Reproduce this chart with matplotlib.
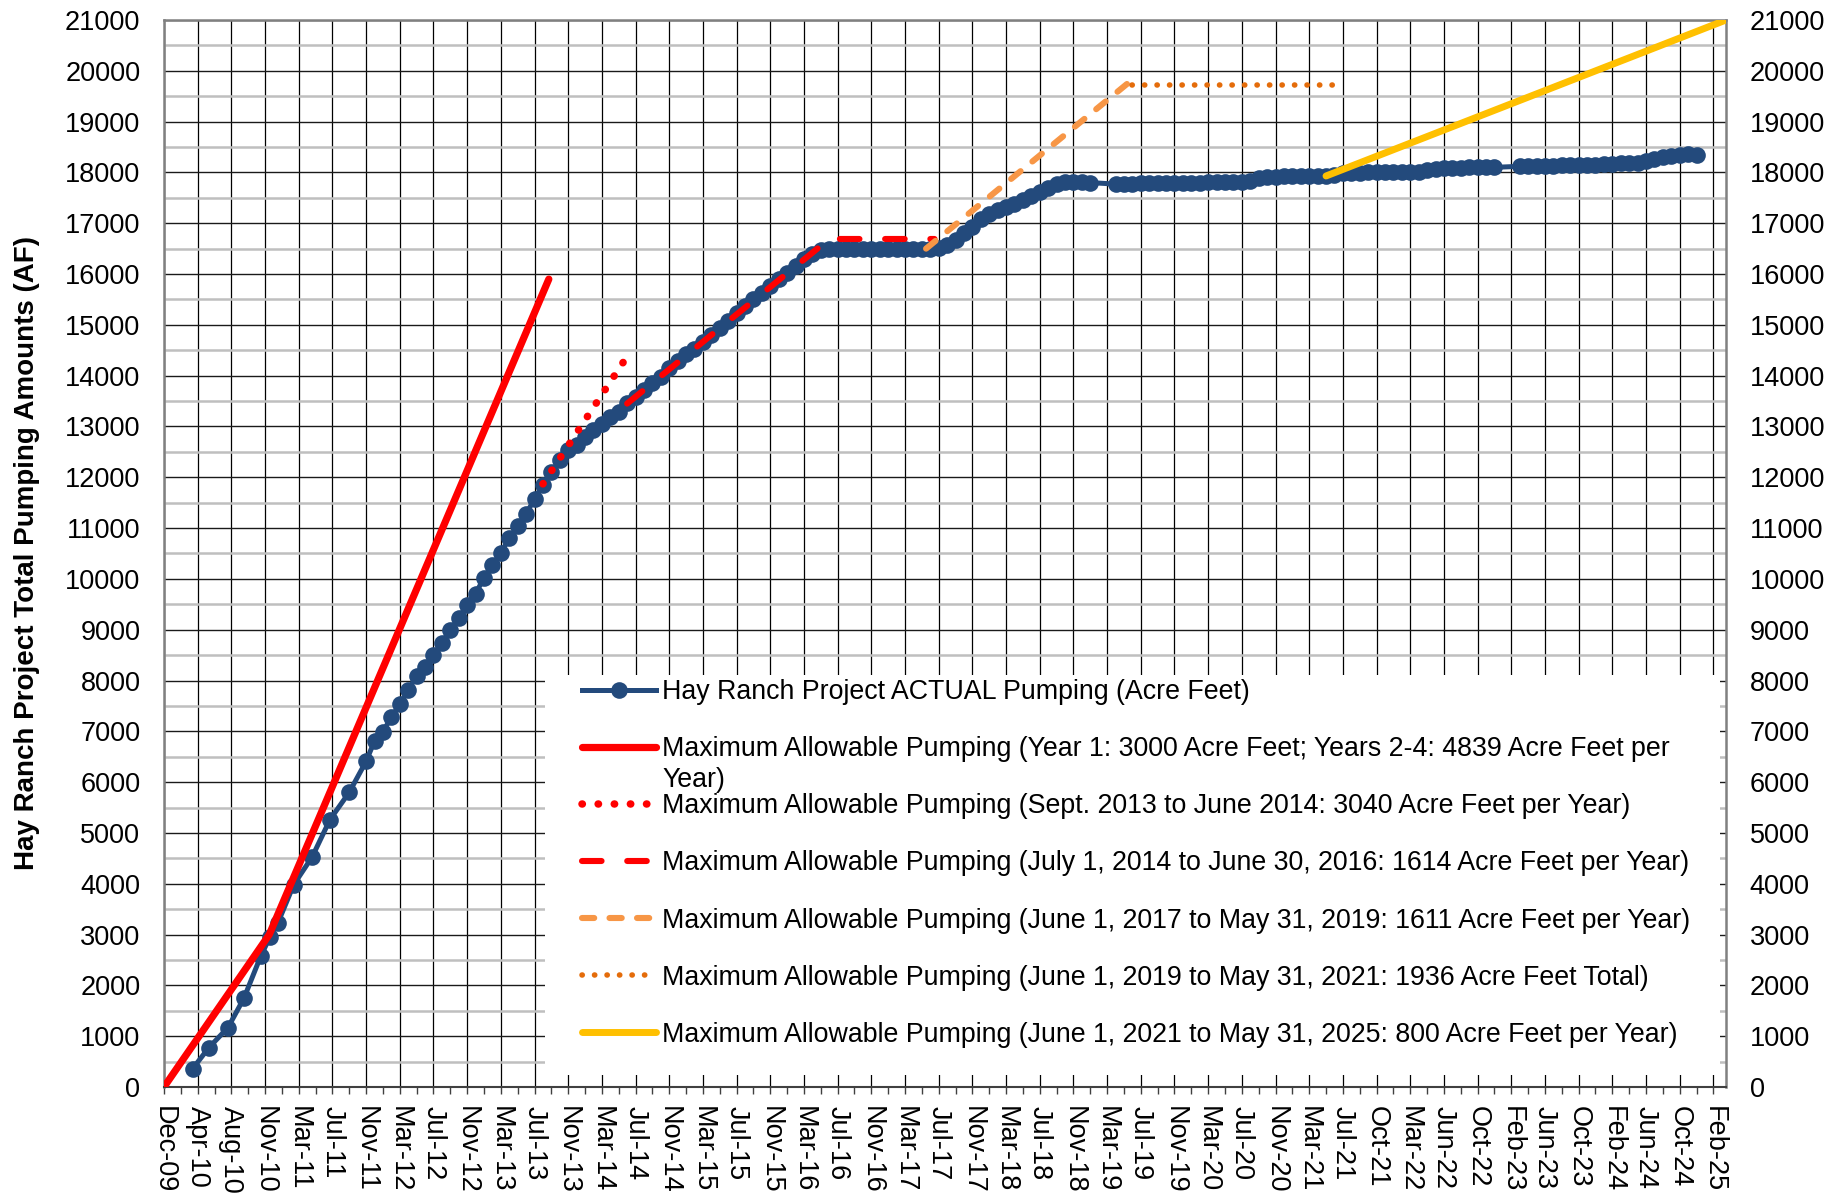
# python3

import numpy as np
import matplotlib
matplotlib.use('Agg')
import matplotlib.pyplot as plt
from matplotlib.patches import Rectangle
from matplotlib.ticker import FixedLocator, MultipleLocator

plt.rcParams['font.family'] = ['Liberation Sans', 'DejaVu Sans']

# category axis: one slot per month, a label every 4th slot
tick_labels = ['Dec-09', 'Apr-10', 'Aug-10', 'Nov-10', 'Mar-11', 'Jul-11', 'Nov-11',
               'Mar-12', 'Jul-12', 'Nov-12', 'Mar-13', 'Jul-13', 'Nov-13', 'Mar-14',
               'Jul-14', 'Nov-14', 'Mar-15', 'Jul-15', 'Nov-15', 'Mar-16', 'Jul-16',
               'Nov-16', 'Mar-17', 'Jul-17', 'Nov-17', 'Mar-18', 'Jul-18', 'Nov-18',
               'Mar-19', 'Jul-19', 'Nov-19', 'Mar-20', 'Jul-20', 'Nov-20', 'Mar-21',
               'Jul-21', 'Oct-21', 'Mar-22', 'Jun-22', 'Oct-22', 'Feb-23', 'Jun-23',
               'Oct-23', 'Feb-24', 'Jun-24', 'Oct-24', 'Feb-25']
label_step = 4
x_max = 185.5

# actual pumping (acre feet), early readings are irregular
early_month = [3.4, 5.3, 7.6, 9.5, 11.5, 12.6, 13.5, 15.4, 17.6, 19.7, 22.0]
early_af = [360, 770, 1170, 1750, 2580, 2960, 3220, 3980, 4530, 5260, 5800]

# monthly readings from slot 24 on (None = no reading)
monthly_start = 24
monthly_af = [
    6410, 6810, 6990, 7280, 7530, 7810, 8090, 8270, 8500, 8740,
    8990, 9230, 9480, 9710, 10020, 10270, 10510, 10800, 11040, 11280,
    11570, 11850, 12100, 12340, 12530, 12630, 12790, 12930, 13050, 13180,
    13280, 13460, 13580, 13720, 13850, 13970, 14150, 14290, 14420, 14530,
    14660, 14800, 14940, 15080, 15230, 15370, 15510, 15630, 15760, 15900,
    16020, 16160, 16290, 16400, 16480, 16490, 16490, 16490, 16490, 16490,
    16490, 16490, 16490, 16490, 16490, 16490, 16490, 16500, 16510, 16580,
    16670, 16800, 16930, 17080, 17180, 17260, 17310, 17380, 17450, 17530,
    17610, 17700, 17770, 17810, 17810, 17810, 17800, None, None, 17770,
    17780, 17780, 17790, 17790, 17790, 17800, 17800, 17800, 17800, 17800,
    17810, 17810, 17810, 17820, 17820, 17830, 17900, 17910, 17910, 17920,
    17920, 17920, 17920, 17930, 17930, 17940, 17980, 17990, 17990, 18000,
    18000, 18000, 18000, 18000, 18000, 18000, 18040, 18060, 18080, 18090,
    18090, 18100, 18100, 18100, 18100, None, None, 18120, 18120, 18130,
    18130, 18130, 18140, 18140, 18140, 18140, 18150, 18170, 18170, 18180,
    18180, 18190, 18230, 18270, 18300, 18320, 18350, 18360, 18350,
]

# maximum allowable pumping lines (month slot, acre feet)
yr1_month = [0, 12.5, 45.7]
yr1_af = [0, 3000, 15900]
sep13_month = [45, 55]
sep13_af = [11870, 14380]
jul14_month = [55, 79, 91.5]
jul14_af = [13450, 16690, 16690]
jun17_month = [90.5, 114.5]
jun17_af = [16500, 19760]
jun19_month = [115, 139.3]
jun19_af = [19730, 19730]
jun21_month = [138, 185.5]
jun21_af = [17930, 21000]

labels = [
    'Hay Ranch Project ACTUAL Pumping (Acre Feet)',
    'Maximum Allowable Pumping (Year 1: 3000 Acre Feet; Years 2-4: 4839 Acre Feet per',
    'Maximum Allowable Pumping (Sept. 2013 to June 2014: 3040 Acre Feet per Year)',
    'Maximum Allowable Pumping (July 1, 2014 to June 30, 2016: 1614 Acre Feet per Year)',
    'Maximum Allowable Pumping (June 1, 2017 to May 31, 2019: 1611 Acre Feet per Year)',
    'Maximum Allowable Pumping (June 1, 2019 to May 31, 2021: 1936 Acre Feet Total)',
    'Maximum Allowable Pumping (June 1, 2021 to May 31, 2025: 800 Acre Feet per Year)',
]

BLUE = '#234A7C'
RED = '#FF0000'
ORANGE = '#F79646'
DARK_ORANGE = '#E46C0A'
YELLOW = '#FFC000'
FS = 19.5
LEG_FS = 19.3


def plot():
    fig = plt.figure(figsize=(18.43, 11.96), dpi=100)
    ax = fig.add_axes([0.08899, 0.09114, 0.84753, 0.89214])

    monthly_x = monthly_start + np.arange(len(monthly_af))
    xs = list(early_month)
    ys = list(early_af)
    for mx, v in zip(monthly_x, monthly_af):
        if v is not None:
            xs.append(mx)
            ys.append(v)

    lines = []
    lines += ax.plot(xs, ys, '-o', color=BLUE, lw=3.6, ms=12, mew=0, zorder=3)
    lines += ax.plot(yr1_month, yr1_af, color=RED, lw=5.2,
                     solid_capstyle='round', zorder=4)
    lines += ax.plot(sep13_month, sep13_af, color=RED, lw=5.4,
                     linestyle=(0, (0.05, 2.1)), dash_capstyle='round', zorder=4)
    lines += ax.plot(jul14_month, jul14_af, color=RED, lw=4.4,
                     linestyle=(0, (3.2, 4.2)), dash_capstyle='round', zorder=4)
    lines += ax.plot(jun17_month, jun17_af, color=ORANGE, lw=4.4,
                     linestyle=(0, (2.0, 2.5)), dash_capstyle='round', zorder=4)
    lines += ax.plot(jun19_month, jun19_af, color=DARK_ORANGE, lw=4.0,
                     linestyle=(0, (0.05, 2.2)), dash_capstyle='round', zorder=4)
    lines += ax.plot(jun21_month, jun21_af, color=YELLOW, lw=5.0,
                     solid_capstyle='round', zorder=4)

    ax.set_xlim(0, x_max)
    ax.set_ylim(0, 21000)

    major_x = np.arange(len(tick_labels)) * label_step
    ax.xaxis.set_major_locator(FixedLocator(major_x))
    ax.xaxis.set_minor_locator(MultipleLocator(label_step / 2))
    ax.set_xticklabels(tick_labels, rotation=-90, ha='center', va='top', fontsize=FS)
    ax.tick_params(axis='x', which='both', direction='out', length=5, width=1,
                   color='#404040', pad=9)

    ax.yaxis.set_major_locator(MultipleLocator(1000))
    ax.yaxis.set_minor_locator(MultipleLocator(500))
    ax.tick_params(axis='y', which='both', length=0, pad=17, labelsize=FS,
                   left=False, right=False, labelleft=True, labelright=True)

    ax.set_axisbelow(True)
    ax.grid(True, axis='x', which='major', color='black', lw=0.9)
    ax.grid(True, axis='y', which='major', color='#1a1a1a', lw=1.0)
    ax.grid(True, axis='y', which='minor', color='#bfbfbf', lw=1.8)

    for side in ['left', 'top', 'right']:
        ax.spines[side].set_color('#808080')
        ax.spines[side].set_linewidth(1.8)
    ax.spines['bottom'].set_color('#404040')
    ax.spines['bottom'].set_linewidth(1.5)

    ax.set_ylabel('Hay Ranch Project Total Pumping Amounts (AF)', fontsize=20,
                  fontweight='bold')
    ax.yaxis.set_label_coords(-0.0794, 0.5)

    # white legend area covering the grid
    ax.add_patch(Rectangle((0.2439, 0.0112), 0.7523, 0.3749, transform=ax.transAxes,
                           facecolor='white', edgecolor='none', zorder=1))

    leg = ax.legend(lines, labels, loc='upper left', bbox_to_anchor=(0.2676, 0.3822),
                    frameon=False, fontsize=LEG_FS, handlelength=2.77,
                    handletextpad=0.23, labelspacing=1.16, borderpad=0,
                    borderaxespad=0, numpoints=1)
    leg.set_zorder(5)

    # second line of the wrapped legend entry
    ax.annotate('Year)', xy=(0, 0), xycoords=leg.get_texts()[1], xytext=(0, -3.5),
                textcoords='offset points', ha='left', va='top', fontsize=LEG_FS,
                zorder=6)

    fig.savefig('out.png', dpi=100)


if __name__ == '__main__':
    plot()
